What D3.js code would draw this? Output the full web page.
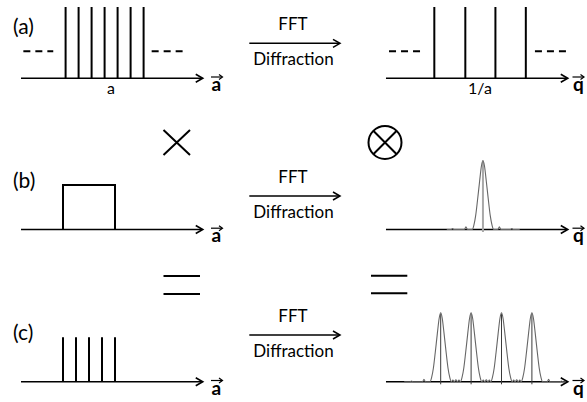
<!DOCTYPE html>
<html>
<head>
<meta charset="utf-8">
<script src="https://cdn.jsdelivr.net/npm/d3@7/dist/d3.min.js"></script>
<style>
	body { margin: 0; background: #fff; }
	svg { display: block; }
</style>
</head>
<body>
<div id="chart-area"></div>
<script>
// DATA (lattice units on the left, reciprocal units on the right)
var rowLabels = ["(a)", "(b)", "(c)"];
var fftTop = "FFT";
var fftBottom = "Diffraction";
var tickLabels = ["a", "1/a"];

var latticeA = [0.2, 1.2, 2.2, 3.2, 4.2, 5.2, 6.2];
var dashesA = [[-3.05, -0.75], [6.82, 9.2]];
var latticeQ = [-0.21, 0.81, 1.8, 2.8];
var dashesQ = [[-1.7, -0.68], [3.1, 4.14]];
var dashLevel = 0.38;

var windowB = [0, 4];
var peaksB = [1.39];
var lobesB = [[0.39, 0.012], [0.83, 0.04], [1.93, 0.04], [2.34, 0.012]];

var latticeC = [0, 1, 2, 3, 4];
var peaksC = [0, 1, 2, 3];
var lobesC = [[-0.96, 0.012], [-0.55, 0.035],
	[0.4, 0.025], [0.5, 0.03], [0.6, 0.025],
	[1.4, 0.025], [1.5, 0.03], [1.6, 0.025],
	[2.4, 0.025], [2.5, 0.03], [2.6, 0.025],
	[3.55, 0.035], [3.97, 0.012]];

// one diffraction peak (offset, intensity)
var peakShape = [[-0.35, 0], [-0.3, 0.06], [-0.24, 0.2], [-0.18, 0.42], [-0.11, 0.7],
	[-0.05, 0.92], [0, 1], [0.05, 0.92], [0.11, 0.7], [0.18, 0.42], [0.24, 0.2],
	[0.3, 0.06], [0.35, 0]];

var axisL = [-3.23, 10.75];
var axisR = [-1.8, 4.18];

var FONT = "Lato, 'Open Sans', sans-serif";

var svg = d3.select("#chart-area")
	.append("svg")
	.attr("width", 587)
	.attr("height", 402);

// SCALES
var xL = d3.scaleLinear().domain([0, 1]).range([63, 76]);
var xR = d3.scaleLinear().domain([0, 1]).range([440.7, 471.1]);

var base = [78.3, 229.5, 381.8];
var yA = d3.scaleLinear().domain([0, 1]).range([base[0], 7]);
var yB = d3.scaleLinear().domain([0, 1]).range([base[1], 185]);
var yBq = d3.scaleLinear().domain([0, 1]).range([base[1], 160.5]);
var yC = d3.scaleLinear().domain([0, 1]).range([base[2], 337.3]);
var yCq = d3.scaleLinear().domain([0, 1]).range([base[2], 312.7]);

function chevron(g, x, y, len, spread, w) {
	g.append("path")
		.attr("d", "M" + (x - len) + "," + (y - spread) + "L" + x + "," + y + "L" + (x - len) + "," + (y + spread))
		.attr("fill", "none")
		.attr("stroke", "#000")
		.attr("stroke-width", w);
}

function arrowLine(x0, x1, y, w) {
	svg.append("line")
		.attr("x1", x0).attr("x2", x1 - 1)
		.attr("y1", y).attr("y2", y)
		.attr("stroke", "#000")
		.attr("stroke-width", w);
	chevron(svg, x1, y, 7, 4, w);
}

function vecLabel(x, y, ch) {
	svg.append("text")
		.attr("x", x)
		.attr("y", y + 12.8)
		.attr("font-family", FONT)
		.attr("font-weight", "bold")
		.attr("font-size", "19px")
		.text(ch);
	svg.append("line")
		.attr("x1", x - 0.5).attr("x2", x + 10.5)
		.attr("y1", y - 1.3).attr("y2", y - 1.3)
		.attr("stroke", "#000")
		.attr("stroke-width", 1.2);
	chevron(svg, x + 11, y - 1.3, 3.5, 2.5, 1.2);
}

function impulses(data, x, y, top) {
	svg.append("g").selectAll("line")
		.data(data)
		.enter()
		.append("line")
		.attr("x1", function (d) { return x(d); })
		.attr("x2", function (d) { return x(d); })
		.attr("y1", y(0))
		.attr("y2", y(top))
		.attr("stroke", "#000")
		.attr("stroke-width", 2);
}

function dashes(data, x, y) {
	svg.append("g").selectAll("line")
		.data(data)
		.enter()
		.append("line")
		.attr("x1", function (d) { return x(d[0]); })
		.attr("x2", function (d) { return x(d[1]); })
		.attr("y1", y(dashLevel))
		.attr("y2", y(dashLevel))
		.attr("stroke", "#000")
		.attr("stroke-width", 2)
		.attr("stroke-dasharray", "7,5");
}

// build the intensity curve from peaks and small side lobes
function curvePoints(peaks, lobes, ends) {
	var pts = [[ends[0], 0], [ends[1], 0]];
	peaks.forEach(function (c) {
		peakShape.forEach(function (p) { pts.push([c + p[0], p[1]]); });
	});
	lobes.forEach(function (b) {
		pts.push([b[0] - 0.05, 0], [b[0], b[1]], [b[0] + 0.05, 0]);
	});
	pts.sort(function (a, b) { return a[0] - b[0]; });
	return pts.filter(function (p, i) { return i == 0 || Math.abs(p[0] - pts[i - 1][0]) > 1e-6; });
}

function intensity(pts, y) {
	var line = d3.line()
		.x(function (d) { return xR(d[0]); })
		.y(function (d) { return y(d[1]); })
		.curve(d3.curveMonotoneX);
	svg.append("path")
		.attr("d", line(pts))
		.attr("fill", "none")
		.attr("stroke", "#666")
		.attr("stroke-width", 1.1);
}

function centerLines(peaks, y, color, w) {
	svg.append("g").selectAll("line")
		.data(peaks)
		.enter()
		.append("line")
		.attr("x1", function (d) { return xR(d); })
		.attr("x2", function (d) { return xR(d); })
		.attr("y1", y(0) + 2.5)
		.attr("y2", y(0.985))
		.attr("stroke", color)
		.attr("stroke-width", w);
}

// AXES
base.forEach(function (b, i) {
	arrowLine(xL(axisL[0]), xL(axisL[1]), b, 1.6);
	arrowLine(xR(axisR[0]), xR(axisR[1]), b, 1.6);
	vecLabel(211.5, b, "a");
	vecLabel(573, b, "q");

	svg.append("text")
		.attr("x", 13)
		.attr("y", [34, 188, 340][i])
		.attr("font-family", FONT)
		.attr("font-size", "21px")
		.text(rowLabels[i]);
});

// FFT ARROWS
[43.3, 196, 335].forEach(function (ay) {
	arrowLine(249.3, 340, ay, 1.5);
	svg.append("text")
		.attr("x", 293)
		.attr("y", ay - 13.5)
		.attr("text-anchor", "middle")
		.attr("font-family", FONT)
		.attr("font-size", "17px")
		.text(fftTop);
	svg.append("text")
		.attr("x", 293.5)
		.attr("y", ay + 22)
		.attr("text-anchor", "middle")
		.attr("font-family", FONT)
		.attr("font-size", "17px")
		.text(fftBottom);
});

// ROW (a)
impulses(latticeA, xL, yA, 1);
dashes(dashesA, xL, yA);
impulses(latticeQ, xR, yA, 1);
dashes(dashesQ, xR, yA);
svg.append("text")
	.attr("x", 111).attr("y", 93.5)
	.attr("text-anchor", "middle")
	.attr("font-family", FONT)
	.attr("font-size", "16px")
	.text(tickLabels[0]);
svg.append("text")
	.attr("x", 480).attr("y", 93.5)
	.attr("text-anchor", "middle")
	.attr("font-family", FONT)
	.attr("font-size", "16px")
	.text(tickLabels[1]);

// ROW (b)
svg.append("path")
	.attr("d", "M" + xL(windowB[0]) + "," + yB(0) + "V" + yB(1) + "H" + xL(windowB[1]) + "V" + yB(0))
	.attr("fill", "none")
	.attr("stroke", "#000")
	.attr("stroke-width", 2);
centerLines(peaksB, yBq, "#a8a8a8", 2);
intensity(curvePoints(peaksB, lobesB, [0.2, 2.6]), yBq);

// ROW (c)
impulses(latticeC, xL, yC, 1);
centerLines(peaksC, yCq, "#3a3a3a", 1);
intensity(curvePoints(peaksC, lobesC, [-1.2, 4.12]), yCq);

// OPERATORS
svg.append("path")
	.attr("d", "M163.5,130L190,155M190,130L163.5,155")
	.attr("stroke", "#000")
	.attr("stroke-width", 2);
svg.append("circle")
	.attr("cx", 385).attr("cy", 142.5).attr("r", 16.5)
	.attr("fill", "none")
	.attr("stroke", "#000")
	.attr("stroke-width", 2);
svg.append("path")
	.attr("d", "M373.3,130.8L396.7,154.2M396.7,130.8L373.3,154.2")
	.attr("stroke", "#000")
	.attr("stroke-width", 2);
svg.append("path")
	.attr("d", "M163.5,276H200M163.5,294H200M371,275.7H407.3M371,293.3H407.3")
	.attr("stroke", "#000")
	.attr("stroke-width", 2);
</script>
</body>
</html>
